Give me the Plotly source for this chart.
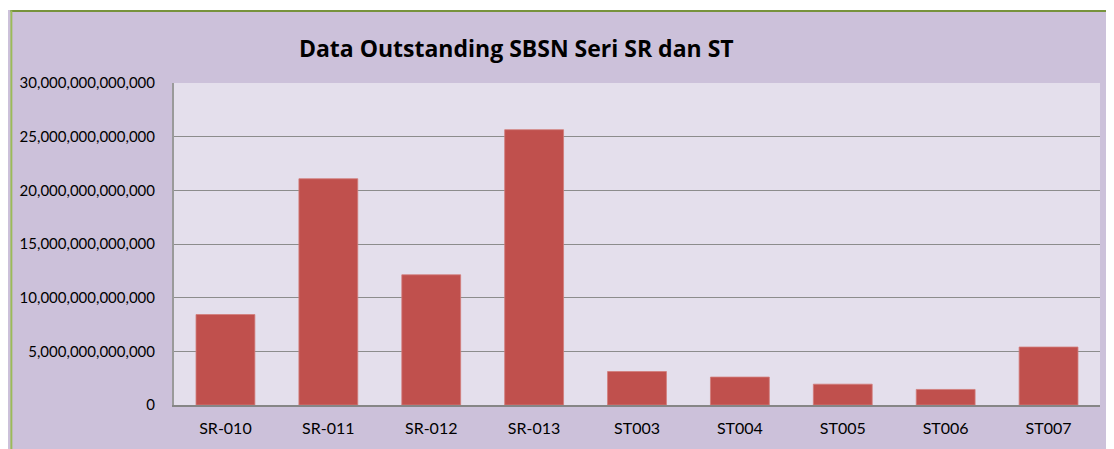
import plotly.graph_objects as go

categories = ["SR-010", "SR-011", "SR-012", "SR-013", "ST003", "ST004", "ST005", "ST006", "ST007"]
outstanding = [8.43e12, 21.08e12, 12.13e12, 25.65e12, 3.12e12, 2.6e12, 1.94e12, 1.45e12, 5.4e12]
y_ticks = [0, 5e12, 10e12, 15e12, 20e12, 25e12, 30e12]
title_text = "Data Outstanding SBSN Seri SR dan ST"

# page has an 8px body margin, so the figure is sized/positioned to compensate
W, H = 1106, 441
ml, mr, mt, mb = 164, 14, 75, 42

fig = go.Figure(go.Bar(
    x=categories, y=outstanding,
    marker=dict(color="#C0504D", line=dict(color="#D27C7A", width=0.8)),
))

pw = W - ml - mr
ph = H - mt - mb

def px_x(p):
    return (p - ml) / pw

def px_y(p):
    return (H - mb - p) / ph

shapes = [
    dict(type="rect", xref="paper", yref="paper", x0=px_x(-5), x1=px_x(W + 5), y0=px_y(1.5), y1=px_y(-5),
         fillcolor="white", line=dict(width=0), layer="below"),
    dict(type="line", xref="paper", yref="paper", x0=px_x(0), x1=px_x(W + 5), y0=px_y(2.5), y1=px_y(2.5),
         line=dict(color="#77933C", width=2), layer="below"),
    dict(type="line", xref="paper", yref="paper", x0=px_x(1), x1=px_x(1), y0=px_y(2), y1=px_y(H + 5),
         line=dict(color="#9BBB59", width=2), layer="below"),
]

fig.update_layout(
    width=W, height=H,
    margin=dict(l=ml, r=mr, t=mt, b=mb),
    paper_bgcolor="#CCC1DA",
    plot_bgcolor="#E4DFEC",
    bargap=0.428,
    showlegend=False,
    shapes=shapes,
    title=dict(text="<b>" + title_text + "</b>", x=px_x(507), xref="paper", xanchor="center",
               y=1 - 40.5 / H, yref="container", yanchor="middle",
               font=dict(family="Open Sans", size=23, color="#000000")),
    font=dict(family="Lato", size=15, color="#000000"),
    xaxis=dict(showline=True, linecolor="#868686", linewidth=1.5, ticks="", showgrid=False,
               ticklabelstandoff=8, tickfont=dict(family="Lato", size=16)),
    yaxis=dict(range=[0, 30e12], tickvals=y_ticks, tickformat=",.0f", showline=True,
               linecolor="#9A9A9A", linewidth=2, gridcolor="#8C8C8C", gridwidth=1.2,
               ticks="", ticklabelstandoff=14, zeroline=False, tickfont=dict(family="Lato", size=15)),
)

fig.write_html("out.html")
